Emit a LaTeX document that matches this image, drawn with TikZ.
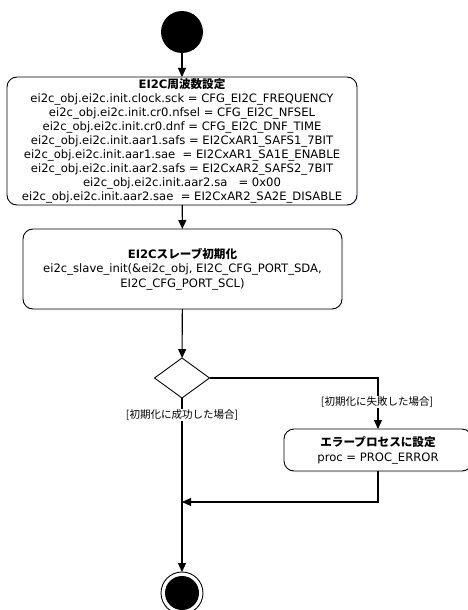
\documentclass[tikz,border=0pt]{standalone}
\usepackage{fontspec}
\setmainfont{DejaVu Sans}
\newfontfamily\cjk{Noto Sans CJK JP}
\usetikzlibrary{shapes.geometric,arrows.meta,shadows}
\begin{document}
\begin{tikzpicture}[x=1pt,y=-1pt,
  every node/.style={inner sep=0pt,outer sep=0pt},
  actbox/.style={draw,rounded corners=10pt,line width=0.9pt,fill=white,align=center,
    font=\fontsize{11.6}{14}\selectfont,
    drop shadow={opacity=0.12,shadow xshift=1.5pt,shadow yshift=-1.5pt,fill=blue!40}},
  flow/.style={line width=1.1pt},
  arr/.style={flow,-{Triangle[length=9pt,width=8pt]}},
  guard/.style={fill=white,font=\cjk\fontsize{10.5}{12}\selectfont,inner sep=1pt}]
\useasboundingbox (0,0) rectangle (467,610);
\node[circle,fill=black,minimum size=42pt] (start) at (182,32) {};
\node[actbox,minimum width=350pt,minimum height=128pt] (b1) at (182,141)
 {\textbf{EI2C{\cjk 周波数設定}}\\
  ei2c\_obj.ei2c.init.clock.sck = CFG\_EI2C\_FREQUENCY\\
  ei2c\_obj.ei2c.init.cr0.nfsel = CFG\_EI2C\_NFSEL\\
  ei2c\_obj.ei2c.init.cr0.dnf = CFG\_EI2C\_DNF\_TIME\\
  ei2c\_obj.ei2c.init.aar1.safs = EI2CxAR1\_SAFS1\_7BIT\\
  ei2c\_obj.ei2c.init.aar1.sae~~= EI2CxAR1\_SA1E\_ENABLE\\
  ei2c\_obj.ei2c.init.aar2.safs = EI2CxAR2\_SAFS2\_7BIT\\
  ei2c\_obj.ei2c.init.aar2.sa~~~= 0x00\\
  ei2c\_obj.ei2c.init.aar2.sae~~= EI2CxAR2\_SA2E\_DISABLE};
\node[actbox,minimum width=319pt,minimum height=80pt,font=\fontsize{11.6}{14.5}\selectfont] (b2) at (182.5,269)
 {\textbf{EI2C{\cjk スレーブ初期化}}\\
  ei2c\_slave\_init(\&ei2c\_obj, EI2C\_CFG\_PORT\_SDA,\\
  EI2C\_CFG\_PORT\_SCL)};
\node[diamond,draw,line width=0.9pt,fill=white,minimum width=55pt,minimum height=40pt] (dec) at (182,378) {};
\node[actbox,minimum width=188pt,minimum height=42pt,font=\fontsize{11.6}{15}\selectfont] (b3) at (378,450)
 {{\cjk\bfseries エラープロセスに設定}\\
  proc = PROC\_ERROR};
\node[circle,draw,line width=0.9pt,minimum size=42pt] (end) at (182,593) {};
\fill (end.center) circle (17pt);
\coordinate (corner) at (378,378);
\coordinate (merge) at (182,502);
\draw[arr] (start) -- (b1);
\draw[arr] (b1) -- (b2);
\draw[arr] (b2) -- (dec);
\draw[arr] (dec.east) -- (corner) -- (b3.north);
\draw[arr] (dec.south) -- (end.north);
\draw[arr] (b3.south) |- (merge);
\node[guard] (g1) at (182,415) {[初期化に成功した場合]};
\node[guard] (g2) at (377,402) {[初期化に失敗した場合]};
\end{tikzpicture}
\end{document}
